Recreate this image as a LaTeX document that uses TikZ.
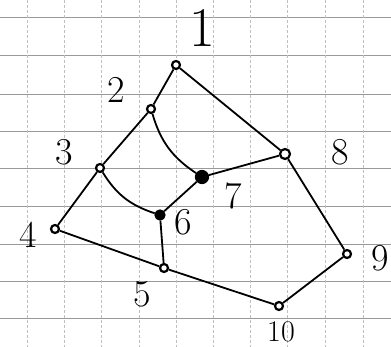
\documentclass[tikz,border=0pt]{standalone}
\usepackage{tikz}
\usetikzlibrary{arrows.meta}

\begin{document}
\begin{tikzpicture}[
    x=1pt, y=-1pt,
    vertex/.style={
        circle,
        draw=black,
        line width=2.2pt,
        fill=white,
        inner sep=0pt,
        minimum size=8pt
    },
    solid vertex/.style={
        vertex,
        fill=black,
        minimum size=9pt
    },
    number/.style={
        font=\fontsize{38}{38}\selectfont
    },
    edge/.style={
        line width=1.8pt,
        black
    }
]

% Paper and grid
\useasboundingbox (0,0) rectangle (391,347);
\fill[white] (0,0) rectangle (391,347);
\foreach \gy in {17,55,94,131,168,206,244,281,318}
    \draw[gray!80, line width=0.8pt] (0,\gy) -- (391,\gy);
\foreach \gx in {27,64,101,139,176,213,250,287,325,363}
    \draw[gray!50, densely dashed, line width=0.6pt] (\gx,0) -- (\gx,347);

% Nodes (positioned like the image)
\node[vertex] (v1) at (176,65) {};
\node[vertex] (v2) at (151,109) {};
\node[vertex] (v3) at (100,168) {};
\node[vertex] (v4) at (55,229) {};
\node[vertex] (v5) at (164,268) {};
\node[solid vertex] (v6) at (160,215) {};
\node[solid vertex, minimum size=12pt] (v7) at (202,177) {};
\node[vertex, minimum size=10pt] (v8) at (285,154) {};
\node[vertex] (v9) at (347,254) {};
\node[vertex] (v10) at (279,306) {};

% Labels
\node[number, font=\fontsize{56}{56}\selectfont] (l1) at (202,28) {1};
\node[number] (l2) at (116,90) {2};
\node[number] (l3) at (64,152) {3};
\node[number] (l4) at (28,235) {4};
\node[number] (l5) at (142,294) {5};
\node[number] (l6) at (183,222) {6};
\node[number] (l7) at (233,196) {7};
\node[number] (l8) at (340,152) {8};
\node[number] (l9) at (380,258) {9};
\node[number, font=\fontsize{30}{30}\selectfont] (l10) at (281,332) {10};

% Edges
\draw[edge] (v1) -- (v2);
\draw[edge] (v1) -- (v8);
\draw[edge] (v2) -- (v3);
\draw[edge] (v2) to[bend right=20] (v7);
\draw[edge] (v3) -- (v4);
\draw[edge] (v3) to[bend right=20] (v6);
\draw[edge] (v4) -- (v5);
\draw[edge] (v5) -- (v6);
\draw[edge] (v6) -- (v7);
\draw[edge] (v7) -- (v8);
\draw[edge] (v8) -- (v9);
\draw[edge] (v9) -- (v10);
\draw[edge] (v10) -- (v5);

\end{tikzpicture}
\end{document}
